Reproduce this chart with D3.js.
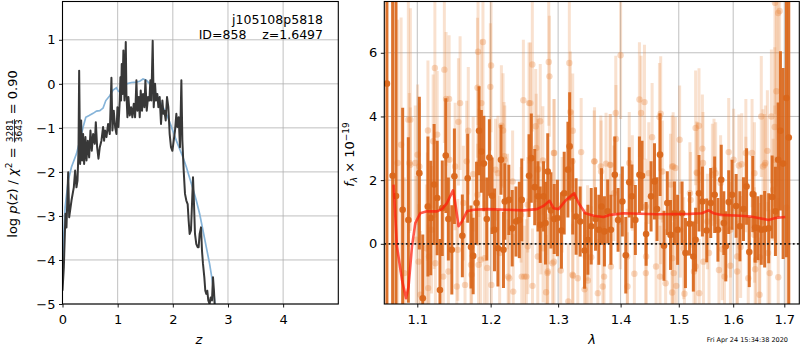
<!DOCTYPE html>
<meta charset="utf-8">
<script src="https://d3js.org/d3.v7.min.js"></script>
<style>
  body { margin: 0; background: #fff; }
  text { font-family: "DejaVu Sans"; }
</style>
<div class="canvas"></div>
<script>

// ---- left panel: p(z) ----
const zTicks = [0, 1, 2, 3, 4]
const pTicks = [-5, -4, -3, -2, -1, 0, 1]

// smooth curve (blue)
const blueZ = [0, 0.024, 0.048, 0.103, 0.163, 0.253, 0.314, 0.374, 0.422, 0.483, 0.555, 0.616, 0.676, 0.736, 0.785, 0.857, 0.917, 0.978, 1.014, 1.050, 1.098, 1.159, 1.249, 1.340, 1.400, 1.460, 1.521, 1.581, 1.642, 1.702, 1.762, 1.823, 1.883, 1.943, 2.004, 2.064, 2.124, 2.185, 2.245, 2.305, 2.366, 2.426, 2.486, 2.547, 2.607, 2.667, 2.716, 2.746, 2.764]
const blueLogP = [-4.17, -3.41, -2.80, -2.20, -1.89, -1.59, -1.29, -0.98, -0.76, -0.72, -0.67, -0.62, -0.61, -0.55, -0.38, -0.27, -0.14, -0.09, -0.17, -0.19, -0.08, 0.00, 0.03, 0.04, 0.06, 0.11, 0.08, 0.00, -0.11, -0.24, -0.39, -0.53, -0.68, -0.87, -1.08, -1.29, -1.48, -1.67, -1.89, -2.14, -2.39, -2.65, -2.95, -3.33, -3.71, -4.09, -4.47, -4.77, -5.00]

// chi2 curve (dark)
const blackZ = [0, 0.024, 0.054, 0.072, 0.103, 0.121, 0.163, 0.205, 0.229, 0.253,
  0.272, 0.290, 0.302, 0.320, 0.338, 0.356, 0.374, 0.392, 0.416, 0.435,
  0.459, 0.483, 0.507, 0.531, 0.555, 0.585, 0.604, 0.628, 0.652, 0.676,
  0.706, 0.736, 0.754, 0.772, 0.797, 0.827, 0.857, 0.887, 0.905, 0.929,
  0.954, 0.978, 0.996, 1.014, 1.038, 1.050, 1.062, 1.074, 1.086, 1.104,
  1.123, 1.147, 1.159, 1.177, 1.195, 1.219, 1.243, 1.267, 1.292, 1.316,
  1.340, 1.358, 1.382, 1.400, 1.418, 1.442, 1.460, 1.485, 1.503, 1.527,
  1.551, 1.575, 1.593, 1.611, 1.635, 1.654, 1.678, 1.696, 1.720, 1.738,
  1.762, 1.786, 1.811, 1.829, 1.847, 1.871, 1.895, 1.919, 1.943, 1.967,
  1.992, 2.016, 2.040, 2.064, 2.082, 2.106, 2.130, 2.155, 2.173, 2.197,
  2.221, 2.245, 2.269, 2.287, 2.305, 2.329, 2.348, 2.366, 2.384, 2.402,
  2.426, 2.450, 2.468, 2.486, 2.511, 2.529, 2.547, 2.571, 2.589, 2.607,
  2.625, 2.643, 2.667, 2.686, 2.710, 2.728, 2.746, 2.764]
const blackLogP = [-4.70, -4.17, -2.95, -3.26, -2.01, -3.03, -2.65, -2.35, -1.97, -2.35,
  -2.20, -1.52, 0.30, -1.82, -0.83, -1.74, -1.14, -1.82, -1.21, -1.74,
  -1.29, -1.67, -1.06, -1.52, -1.14, -1.36, -0.87, -1.44, -1.70, -1.44,
  -1.29, -0.98, -1.29, -1.06, -1.21, -0.91, -1.14, 0.14, -1.06, -0.61,
  -0.98, -1.14, -0.53, -0.98, -0.38, 0.15, -0.38, 0.45, -0.23, 0.76,
  -0.38, 0.95, -0.23, -0.76, -0.30, -0.72, -0.53, -0.76, -0.45, -0.76,
  0.08, -0.61, -0.30, -0.76, -0.15, -0.61, -0.23, -0.53, 0.08, -0.61,
  -0.30, -0.38, 0.08, -0.38, 0.98, -0.53, 0.00, -0.38, -0.23, -0.53,
  -0.30, -0.91, -0.38, -0.68, -0.61, -0.83, -0.30, -0.53, -1.14, -1.44,
  -1.52, -1.29, -1.06, -0.68, -0.98, -0.76, -1.44, 0.08, -1.29, -1.97,
  -2.50, -2.65, -2.73, -3.11, -3.41, -3.33, -2.73, -2.12, -2.73, -3.41,
  -3.64, -3.71, -3.71, -3.41, -3.26, -3.79, -4.09, -4.39, -4.70, -4.77,
  -4.70, -4.92, -5.00, -4.85, -4.92, -4.39, -4.70, -5.15]

// ---- right panel: spectrum ----
const lamTicks = [1.1, 1.2, 1.3, 1.4, 1.5, 1.6, 1.7]
const fluxTicks = [0, 2, 4, 6]

const darkWave = [1.0611, 1.0683, 1.0726, 1.0811, 1.0884, 1.1027, 1.1072, 1.1140, 1.1177, 1.1222,
  1.1263, 1.1300, 1.1331, 1.1378, 1.1413, 1.1460, 1.1495, 1.1604, 1.1678, 1.1723,
  1.1754, 1.1801, 1.1836, 1.1869, 1.1904, 1.1945, 1.1982, 1.2021, 1.2055, 1.2104,
  1.2148, 1.2184, 1.2203, 1.2262, 1.2311, 1.2366, 1.2415, 1.2451, 1.2559, 1.2593,
  1.2644, 1.2693, 1.2727, 1.2777, 1.2807, 1.2841, 1.2890, 1.2940, 1.2989, 1.3051,
  1.3094, 1.3152, 1.3179, 1.3227, 1.3280, 1.3344, 1.3414, 1.3467, 1.3520, 1.3590,
  1.3643, 1.3686, 1.3734, 1.3787, 1.3840, 1.3904, 1.3958, 1.4029, 1.4086, 1.4144,
  1.4189, 1.4247, 1.4316, 1.4361, 1.4430, 1.4515, 1.4574, 1.4618, 1.4670, 1.4739,
  1.4797, 1.4854, 1.4923, 1.4979, 1.5059, 1.5119, 1.5193, 1.5261, 1.5303, 1.5364,
  1.5426, 1.5505, 1.5579, 1.5652, 1.5713, 1.5775, 1.5823, 1.5860, 1.5915, 1.5978,
  1.6056, 1.6128, 1.6196, 1.6256, 1.6308, 1.6376, 1.6422, 1.6476, 1.6542, 1.6608,
  1.6688, 1.6756, 1.6822, 1.6876, 1.6922, 1.6976, 1.7043, 1.7090]
const darkFlux = [5.03, 2.14, 1.50, 1.07, 0.75, 2.22, -1.71, 1.17, 0.81, 1.86,
  1.44, -1.45, 1.12, 2.77, 0.78, -0.19, 2.12, 0.25, 2.06, -0.10,
  -0.38, 1.28, 3.55, 2.90, 2.52, 0.78, 2.71, 1.51, 0.44, -0.14,
  2.64, -0.19, 1.33, 1.38, 0.49, 0.70, 0.75, 1.38, 2.14, 2.69,
  1.78, 1.49, 0.60, 1.49, 0.65, 2.27, 1.05, 0.78, 0.81, 0.42,
  1.59, 2.33, 3.06, 1.49, 0.86, 0.70, -0.21, 0.13, 0.55, 0.78,
  0.44, 1.17, 0.39, 1.02, 0.44, 2.17, 0.75, 1.33, -0.36, 1.93,
  1.49, 0.75, 2.17, 2.14, 0.31, 1.49, 1.96, 1.09, 2.80, -0.06,
  1.28, 0.28, 0.96, 0.44, 0.96, -0.29, 0.63, -0.40, 0.13, 1.59,
  1.33, 0.42, 1.28, 1.54, 0.44, 2.01, 0.65, -0.08, 1.31, 1.54,
  1.19, 0.55, 1.09, 1.80, -0.26, 1.56, 0.51, 0.49, 0.44, 0.46,
  0.49, 1.47, 1.02, 2.64, 3.55, 2.52, 4.58, 3.34]
const darkErr = [9, 8, 8, 3.2, 2.6, 2.4, 2.0, 2.2, 1.8, 1.9,
  1.8, 1.6, 1.5, 1.8, 1.3, 1.4, 1.5, 1.3, 1.4, 1.3,
  1.2, 1.3, 1.4, 1.3, 1.5, 1.3, 1.2, 1.2, 1.3, 1.2,
  1.1, 1.2, 1.2, 1.1, 1.2, 1.1, 1.2, 1.3, 1.3, 1.4,
  1.2, 1.1, 1.2, 1.1, 1.3, 1.2, 1.2, 1.1, 1.2, 1.2,
  1.3, 1.5, 1.7, 1.2, 1.2, 1.1, 1.2, 1.1, 1.2, 1.0,
  1.1, 1.2, 1.1, 1.0, 1.1, 1.2, 1.0, 1.1, 1.2, 1.1,
  1.0, 1.1, 1.2, 1.1, 1.0, 1.1, 1.2, 1.0, 1.3, 1.1,
  1.0, 1.1, 1.0, 1.1, 1.0, 1.1, 1.0, 1.1, 1.0, 1.2,
  1.1, 1.0, 1.1, 1.2, 1.0, 1.1, 1.0, 1.1, 1.0, 1.1,
  1.0, 1.1, 1.0, 1.2, 1.1, 1.2, 1.1, 1.0, 1.1, 1.2,
  1.1, 1.3, 1.4, 1.8, 2.5, 3.0, 5, 9]

const lightWave = [1.0747, 1.0791, 1.0833, 1.0884, 1.0910, 1.0897, 1.1004, 1.0987, 1.1027, 1.1041,
  1.1119, 1.1140, 1.1143, 1.1187, 1.1209, 1.1232, 1.1239, 1.1263, 1.1345, 1.1359,
  1.1382, 1.1413, 1.1423, 1.1505, 1.1528, 1.1550, 1.1573, 1.1618, 1.1641, 1.1664,
  1.1686, 1.1732, 1.1754, 1.1814, 1.1822, 1.1829, 1.1869, 1.1891, 1.1914, 1.1996,
  1.2006, 1.2010, 1.2104, 1.2129, 1.2154, 1.2178, 1.2203, 1.2252, 1.2326, 1.2451,
  1.2475, 1.2519, 1.2559, 1.2579, 1.2608, 1.2611, 1.2659, 1.2667, 1.2697, 1.2727,
  1.2767, 1.2770, 1.2816, 1.2841, 1.2856, 1.2866, 1.2914, 1.2940, 1.3040, 1.3158,
  1.3174, 1.3190, 1.3227, 1.3232, 1.3307, 1.3360, 1.3414, 1.3467, 1.3520, 1.3574,
  1.3627, 1.3680, 1.3707, 1.3760, 1.3824, 1.3840, 1.3920, 1.3923, 1.4000, 1.4115,
  1.4144, 1.4230, 1.4316, 1.4344, 1.4402, 1.4430, 1.4476, 1.4533, 1.4601, 1.4660,
  1.4670, 1.4682, 1.4768, 1.4854, 1.4883, 1.4900, 1.4911, 1.4940, 1.4957, 1.5015,
  1.5088, 1.5101, 1.5199, 1.5272, 1.5303, 1.5322, 1.5364, 1.5368, 1.5426, 1.5437,
  1.5445, 1.5548, 1.5610, 1.5671, 1.5794, 1.5836, 1.5915, 1.5947, 1.6076, 1.6108,
  1.6142, 1.6162, 1.6242, 1.6288, 1.6362, 1.6422, 1.6508, 1.6512, 1.6542, 1.6576,
  1.6622, 1.6662, 1.6708, 1.6742, 1.6808, 1.6842, 1.6812, 1.6876, 1.6878, 1.6906,
  1.7043, 1.0910, 1.0974, 1.1132, 1.1222, 1.1427, 1.1814, 1.1836, 1.2070, 1.2193,
  1.2243, 1.2317, 1.2440, 1.2539, 1.2688, 1.2737, 1.2860, 1.2934, 1.3062, 1.3222,
  1.1018, 1.1154, 1.1723, 1.1859, 1.1951, 1.2267, 1.2489, 1.2690, 1.2837, 1.2936,
  1.3224, 1.2541, 1.1541, 1.3568, 1.3675, 1.3835, 1.3888, 1.4196, 1.4424, 1.4711,
  1.4883, 1.5211, 1.5335, 1.5640, 1.5763, 1.6008, 1.6242, 1.6408, 1.6608, 1.6776,
  1.6808, 1.3435, 1.3728, 1.4110, 1.4426, 1.4885, 1.5303, 1.5732, 1.6076, 1.6442,
  1.6676, 1.5028, 1.4682, 1.3995, 1.3462, 1.5518, 1.5947, 1.6410]
const lightFlux = [2.54, 3.11, -0.92, 3.90, 3.90, 2.54, 2.80, 0.13, 2.43, -1.60,
  -0.14, 3.56, -1.39, 0.44, 3.22, 5.52, -0.61, 3.43, -1.03, 5.47,
  4.55, -0.87, 4.55, 2.43, -1.34, 3.83, 4.42, 1.28, -1.29, 2.59,
  3.55, -0.97, 2.19, 4.90, 6.03, -0.66, 4.42, 6.34, -0.45, 4.93,
  5.60, -1.29, 2.22, -0.29, 3.71, 3.56, 2.64, -1.03, -1.50, -1.03,
  4.51, -1.03, 4.42, 4.42, 5.63, -1.32, 3.69, 3.01, 2.35, 3.85,
  2.62, -0.14, -1.52, -0.87, 5.71, 5.26, -0.61, 2.85, -0.84, -1.81,
  5.68, 4.14, 3.55, -1.00, -1.08, 2.88, -1.43, -1.15, -0.42, 2.59,
  -1.55, 2.27, -1.34, 2.52, 2.48, -0.71, 4.11, 3.29, 5.92, -1.34,
  2.54, -0.94, 4.53, 4.11, 4.45, -0.40, 2.22, 3.35, -0.71, 3.98,
  -1.03, 4.09, -1.24, 1.86, -1.53, 2.43, -0.92, 2.38, -1.32, 3.27,
  -0.14, -1.57, 1.59, -0.87, 3.64, 2.24, 3.71, -1.55, 2.99, 2.54,
  -0.56, -0.29, 2.17, 2.22, -0.17, -1.03, 2.88, -0.69, -0.87, 2.46,
  -0.10, 2.50, 2.85, -1.08, 2.85, -0.80, -1.60, -0.42, 4.00, 2.43,
  2.54, 2.92, -0.92, 4.00, 3.67, 4.79, 7.57, 7.25, -1.05, 7.31,
  1.14, 2.48, 2.54, 1.17, 0.91, 2.64, 1.54, 2.54, 2.33, 2.75,
  1.33, 1.96, 0.91, 1.23, 2.33, 0.54, 0.86, 2.85, 1.23, 2.59,
  -0.56, -0.40, -0.66, -0.50, -0.76, -1.08, -1.03, -0.40, -0.92, -0.56,
  -0.97, -0.08, -0.19, 2.59, 2.43, 2.48, 1.59, 1.91, 1.17, 2.27,
  2.43, 1.38, 2.22, 2.33, 1.91, 2.64, 1.86, 2.22, 2.48, 1.70,
  2.64, -0.40, -1.03, -0.40, -0.92, -0.45, -0.71, -0.82, -0.40, -0.50,
  -0.29, 0.44, 0.86, 0.70, 0.34, 0.70, 0.44, 0.28]
const lightErr = [4.5, 4.0, 3.0, 4.0, 3.5, 2.2, 2.2, 2.0, 2.0, 2.0,
  2.0, 2.2, 2.0, 2.0, 2.1, 2.2, 2.0, 2.0, 2.0, 2.3,
  2.1, 2.0, 2.0, 2.0, 2.0, 2.0, 2.1, 1.8, 2.0, 1.9,
  2.0, 1.9, 1.8, 2.2, 2.3, 1.9, 2.0, 2.3, 1.8, 2.0,
  2.1, 1.8, 1.8, 1.8, 1.9, 1.8, 1.7, 1.8, 1.8, 1.8,
  1.9, 1.8, 1.9, 1.9, 2.1, 1.8, 1.8, 1.7, 1.7, 1.8,
  1.7, 1.7, 1.8, 1.7, 2.0, 1.9, 1.7, 1.7, 1.7, 1.8,
  2.0, 1.9, 1.8, 1.7, 1.7, 1.7, 1.7, 1.7, 1.6, 1.7,
  1.7, 1.6, 1.7, 1.6, 1.6, 1.6, 1.8, 1.7, 2.0, 1.7,
  1.6, 1.6, 1.8, 1.8, 1.8, 1.6, 1.6, 1.7, 1.6, 1.7,
  1.6, 1.8, 1.7, 1.6, 1.7, 1.7, 1.6, 1.6, 1.7, 1.7,
  1.6, 1.7, 1.6, 1.6, 1.8, 1.6, 1.8, 1.7, 1.7, 1.6,
  1.6, 1.6, 1.6, 1.6, 1.6, 1.6, 1.7, 1.6, 1.6, 1.6,
  1.6, 1.6, 1.7, 1.7, 1.7, 1.7, 1.8, 1.7, 1.9, 1.8,
  1.8, 1.9, 2.0, 2.1, 2.5, 3.0, 3.5, 4.0, 2.5, 5.0,
  9.0, 1.8, 1.8, 1.7, 1.7, 1.8, 1.6, 1.7, 1.6, 1.7,
  1.5, 1.6, 1.5, 1.5, 1.6, 1.5, 1.5, 1.7, 1.5, 1.6,
  1.8, 1.7, 1.6, 1.6, 1.6, 1.6, 1.6, 1.5, 1.6, 1.5,
  1.6, 1.5, 1.6, 1.6, 1.6, 1.6, 1.5, 1.5, 1.5, 1.6,
  1.6, 1.5, 1.6, 1.6, 1.5, 1.6, 1.5, 1.6, 1.6, 1.6,
  1.7, 1.5, 1.6, 1.5, 1.6, 1.5, 1.5, 1.6, 1.5, 1.5,
  1.6, 1.5, 1.5, 1.5, 1.5, 1.5, 1.5, 1.5]

// model (red)
const modelWave = [1.0695, 1.0738, 1.0802, 1.0854, 1.0887, 1.0931, 1.0974, 1.1039, 1.1127, 1.1260,
  1.1327, 1.1394, 1.1476, 1.1507, 1.1552, 1.1599, 1.1668, 1.1760, 1.1948, 1.2235,
  1.2478, 1.2678, 1.2777, 1.2869, 1.2930, 1.3007, 1.3111, 1.3251, 1.3319, 1.3426,
  1.3559, 1.3720, 1.3830, 1.4049, 1.4617, 1.5206, 1.5418, 1.5540, 1.5632, 1.5757,
  1.6136, 1.6328, 1.6489, 1.6686, 1.6819, 1.7020]
const modelFlux = [1.86, -0.08, -1.13, -1.71, -1.34, -0.08, 0.65, 0.96, 1.02, 1.02,
  1.09, 1.28, 1.68, 1.28, 0.55, 0.70, 1.02, 1.07, 1.09, 1.07,
  1.05, 1.09, 1.19, 1.35, 1.12, 1.09, 1.35, 1.59, 1.28, 0.96,
  0.88, 0.84, 0.91, 0.96, 0.93, 0.94, 0.96, 1.05, 0.96, 0.91,
  0.88, 0.86, 0.81, 0.75, 0.81, 0.84]

const width = 800
const height = 350
const fontSize = 13

const svg = d3.select(".canvas")
              .append("svg")
              .attr("width", width)
              .attr("height", height)

const L = {x0: 62.5, x1: 338.3, y0: 1.5, y1: 304}
const R = {x0: 384.3, x1: 799.3, y0: 1.5, y1: 304}

const xz = d3.scaleLinear().domain([0, 5]).range([L.x0, L.x1])
const yp = d3.scaleLinear().domain([-5, 1.87]).range([L.y1, L.y0])
const xl = d3.scaleLog().domain([1.0578, 1.7305]).range([R.x0, R.x1])
const yf = d3.scaleLinear().domain([-1.89, 7.61]).range([R.y1, R.y0])

const defs = svg.append("defs")
defs.append("clipPath").attr("id", "clipL").append("rect")
    .attr("x", L.x0).attr("y", L.y0).attr("width", L.x1 - L.x0).attr("height", L.y1 - L.y0)
defs.append("clipPath").attr("id", "clipR").append("rect")
    .attr("x", R.x0).attr("y", R.y0).attr("width", R.x1 - R.x0).attr("height", R.y1 - R.y0)

function grid(box, xs, xv, ys, yv) {
    const g = svg.append("g").attr("stroke", "#b0b0b0").attr("stroke-width", 0.8)
    g.selectAll(".gx").data(xv).enter().append("line")
        .attr("x1", d => xs(d)).attr("x2", d => xs(d))
        .attr("y1", box.y0).attr("y2", box.y1)
    g.selectAll(".gy").data(yv).enter().append("line")
        .attr("x1", box.x0).attr("x2", box.x1)
        .attr("y1", d => ys(d)).attr("y2", d => ys(d))
}

function axes(box, xs, xv, fmtX, ys, yv) {
    const gx = svg.append("g").attr("transform", `translate(0,${box.y1})`)
        .call(d3.axisBottom(xs).tickValues(xv).tickFormat(fmtX).tickSize(3.5).tickPadding(7.5))
    const gy = svg.append("g").attr("transform", `translate(${box.x0},0)`)
        .call(d3.axisLeft(ys).tickValues(yv).tickFormat(d3.format("d")).tickSize(3.5).tickPadding(3.5))
    for (const g of [gx, gy]) {
        g.select(".domain").remove()
        g.selectAll("text").style("font-size", fontSize + "px").attr("fill", "#000")
            .style("font-family", "DejaVu Sans")
        g.selectAll("line").attr("stroke", "#000").attr("stroke-width", 0.9)
    }
    svg.append("rect")
        .attr("x", box.x0).attr("y", box.y0)
        .attr("width", box.x1 - box.x0).attr("height", box.y1 - box.y0)
        .attr("fill", "none").attr("stroke", "#000").attr("stroke-width", 1.1)
}

// ---- left panel ----
grid(L, xz, zTicks, yp, pTicks)

const gl = svg.append("g").attr("clip-path", "url(#clipL)")
const lineL = d3.line().x(d => xz(d[0])).y(d => yp(d[1]))

gl.append("path")
    .datum(d3.zip(blueZ, blueLogP))
    .attr("d", lineL)
    .attr("fill", "none").attr("stroke", "#86b4d9").attr("stroke-width", 1.7)

gl.append("path")
    .datum(d3.zip(blackZ, blackLogP))
    .attr("d", lineL)
    .attr("fill", "none").attr("stroke", "#383838").attr("stroke-width", 2)
    .attr("stroke-linejoin", "round")

axes(L, xz, zTicks, d3.format("d"), yp, pTicks)

svg.append("text").attr("x", 323).attr("y", 23.5).attr("text-anchor", "end")
    .style("font-size", "12.5px").text("j105108p5818")
svg.append("text").attr("x", 323).attr("y", 39).attr("text-anchor", "end")
    .style("font-size", "12.5px").style("white-space", "pre").text("ID=858    z=1.6497")

svg.append("text").attr("x", 199).attr("y", 343.5).attr("text-anchor", "middle")
    .style("font-size", fontSize + "px").style("font-style", "italic").text("z")

// y label with stacked fraction
const ylab = svg.append("g").attr("transform", "translate(16.7,154) rotate(-90)")
    .style("font-size", fontSize + "px")
const p1 = ylab.append("text")
p1.append("tspan").text("log ")
p1.append("tspan").style("font-style", "italic").text("p")
p1.append("tspan").text("(")
p1.append("tspan").style("font-style", "italic").text("z")
p1.append("tspan").text(") / ")
p1.append("tspan").style("font-style", "italic").text("χ")
p1.append("tspan").style("font-size", "9px").attr("dy", -5).text("2")
p1.append("tspan").attr("dy", 5).style("white-space", "pre").text(" = ")
const num = ylab.append("text").style("font-size", "9px").attr("text-anchor", "middle").text("3281")
const den = ylab.append("text").style("font-size", "9px").attr("text-anchor", "middle").text("3643")
const p3 = ylab.append("text").style("white-space", "pre").text(" = 0.90")
const w1 = p1.node().getComputedTextLength()
const wf = Math.max(num.node().getComputedTextLength(), den.node().getComputedTextLength()) + 2
const w3 = p3.node().getComputedTextLength()
const x0 = -(w1 + wf + w3) / 2
p1.attr("x", x0)
num.attr("x", x0 + w1 + wf / 2).attr("y", -3.4)
den.attr("x", x0 + w1 + wf / 2).attr("y", 5.6)
ylab.append("line").attr("x1", x0 + w1 + 0.8).attr("x2", x0 + w1 + wf - 0.8)
    .attr("y1", -2.2).attr("y2", -2.2).attr("stroke", "#000").attr("stroke-width", 0.8)
p3.attr("x", x0 + w1 + wf)

// ---- right panel ----
grid(R, xl, lamTicks, yf, fluxTicks)

const gr = svg.append("g").attr("clip-path", "url(#clipR)")

function errPoints(g, wave, flux, err, color, barOp, dotOp, r) {
    const pts = d3.zip(wave, flux, err)
    g.append("g").selectAll("line").data(pts).enter().append("line")
        .attr("x1", d => xl(d[0])).attr("x2", d => xl(d[0]))
        .attr("y1", d => yf(d[1] - d[2])).attr("y2", d => yf(d[1] + d[2]))
        .attr("stroke", color).attr("stroke-width", 3).attr("stroke-opacity", barOp)
    g.append("g").selectAll("circle").data(pts).enter().append("circle")
        .attr("cx", d => xl(d[0])).attr("cy", d => yf(d[1])).attr("r", r)
        .attr("fill", color).attr("fill-opacity", dotOp)
}

errPoints(gr, lightWave, lightFlux, lightErr, "#e8873f", 0.25, 0.32, 3.2)
errPoints(gr, darkWave, darkFlux, darkErr, "#d9661a", 0.92, 0.95, 3.3)

gr.append("path")
    .datum(d3.zip(modelWave, modelFlux))
    .attr("d", d3.line().x(d => xl(d[0])).y(d => yf(d[1])))
    .attr("fill", "none").attr("stroke", "#ff1a0a").attr("stroke-opacity", 0.72)
    .attr("stroke-width", 2.6).attr("stroke-linejoin", "round")

gr.append("line")
    .attr("x1", R.x0).attr("x2", R.x1).attr("y1", yf(0)).attr("y2", yf(0))
    .attr("stroke", "#1a1a1a").attr("stroke-width", 1.8).attr("stroke-dasharray", "1.8,2.5")

axes(R, xl, lamTicks, d3.format(".1f"), yf, fluxTicks)

svg.append("text").attr("x", 592).attr("y", 344).attr("text-anchor", "middle")
    .style("font-size", fontSize + "px").style("font-style", "italic").text("λ")

const rlab = svg.append("text").attr("transform", "translate(353.5,154.5) rotate(-90)")
    .attr("text-anchor", "middle").style("font-size", fontSize + "px")
rlab.append("tspan").style("font-style", "italic").text("f")
rlab.append("tspan").style("font-style", "italic").style("font-size", "9px").attr("dy", 3).text("λ")
rlab.append("tspan").attr("dy", -3).style("white-space", "pre").text(" × 10")
rlab.append("tspan").style("font-size", "9px").attr("dy", -5).text("−19")

svg.append("text").attr("x", 788).attr("y", 341.5).attr("text-anchor", "end")
    .attr("fill", "#000").style("font-size", "6.5px").text("Fri Apr 24 15:34:38 2020")

</script>
